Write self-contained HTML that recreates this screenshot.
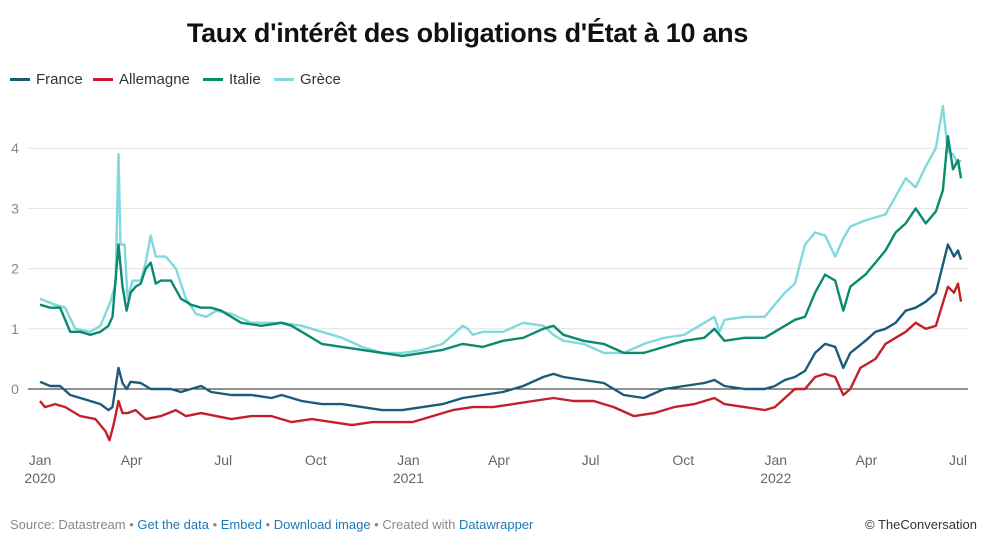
<!DOCTYPE html>
<html><head><meta charset="utf-8">
<style>
body{margin:0;background:#fff;font-family:"Liberation Sans",sans-serif;}
#wrap{position:relative;width:995px;height:551px;overflow:hidden;}
h1{position:absolute;left:0;width:935px;top:18px;margin:0;text-align:center;font-size:27px;font-weight:bold;color:#111;letter-spacing:-0.3px;}
.leg{position:absolute;top:71px;font-size:15px;color:#333;display:flex;align-items:center;}
.leg i{display:inline-block;width:20px;height:3px;margin-right:6px;}
.foot{position:absolute;top:517px;left:10px;font-size:13px;color:#888;}
.foot a{color:#1a7ab5;text-decoration:none;}
.copy{position:absolute;top:517px;right:18px;font-size:13px;color:#333;}
</style></head><body>
<div id="wrap">
<h1>Taux d'intérêt des obligations d'État à 10 ans</h1>
<div class="leg" style="left:10px"><i style="background:#1b5c7a"></i>France</div>
<div class="leg" style="left:93px"><i style="background:#c3202a"></i>Allemagne</div>
<div class="leg" style="left:203px"><i style="background:#0a8a6e"></i>Italie</div>
<div class="leg" style="left:274px"><i style="background:#7fd9de"></i>Grèce</div>
<svg id="chart" width="995" height="551" style="position:absolute;left:0;top:0"></svg>
<div class="foot">Source: Datastream • <a href="#">Get the data</a> • <a href="#">Embed</a> • <a href="#">Download image</a> • Created with <a href="#">Datawrapper</a></div>
<div class="copy">© TheConversation</div>
</div>
<script>
const yTicks=[0,1,2,3,4];
const xTickLabels=["Jan","Apr","Jul","Oct","Jan","Apr","Jul","Oct","Jan","Apr","Jul"];
const xTickYears=["2020","","","","2021","","","","2022","",""];
const xTickDays=[0,91,182,274,366,456,547,639,731,821,912];
const franceDays=[0,10,20,30,40,50,60,68,72,78,82,86,90,100,110,120,130,140,150,160,170,190,210,230,240,260,280,300,320,340,360,380,400,420,440,460,480,500,510,520,540,560,580,600,620,640,660,670,680,700,720,730,740,750,760,770,780,790,798,805,820,830,840,850,860,870,880,890,902,908,912,915];
const franceVals=[0.12,0.05,0.05,-0.1,-0.15,-0.2,-0.25,-0.35,-0.3,0.35,0.1,0.0,0.12,0.1,0.0,0.0,0.0,-0.05,0.0,0.05,-0.05,-0.1,-0.1,-0.15,-0.1,-0.2,-0.25,-0.25,-0.3,-0.35,-0.35,-0.3,-0.25,-0.15,-0.1,-0.05,0.05,0.2,0.25,0.2,0.15,0.1,-0.1,-0.15,0.0,0.05,0.1,0.15,0.05,0.0,0.0,0.05,0.15,0.2,0.3,0.6,0.75,0.7,0.35,0.6,0.8,0.95,1.0,1.1,1.3,1.35,1.45,1.6,2.4,2.2,2.3,2.15];
const germanyDays=[0,5,15,25,40,55,65,69,73,78,82,87,95,105,120,135,145,160,175,190,210,230,250,270,290,310,330,350,370,390,410,430,450,470,490,510,530,550,570,590,610,630,650,670,680,700,720,730,740,750,760,770,780,790,798,805,815,830,840,850,860,870,880,890,902,908,912,915];
const germanyVals=[-0.2,-0.3,-0.25,-0.3,-0.45,-0.5,-0.7,-0.85,-0.6,-0.2,-0.4,-0.4,-0.35,-0.5,-0.45,-0.35,-0.45,-0.4,-0.45,-0.5,-0.45,-0.45,-0.55,-0.5,-0.55,-0.6,-0.55,-0.55,-0.55,-0.45,-0.35,-0.3,-0.3,-0.25,-0.2,-0.15,-0.2,-0.2,-0.3,-0.45,-0.4,-0.3,-0.25,-0.15,-0.25,-0.3,-0.35,-0.3,-0.15,0.0,0.0,0.2,0.25,0.2,-0.1,0.0,0.35,0.5,0.75,0.85,0.95,1.1,1.0,1.05,1.7,1.6,1.75,1.45];
const italyDays=[0,10,20,30,40,50,60,68,72,78,82,86,90,95,100,105,110,115,120,130,140,150,160,170,180,190,200,220,240,250,260,270,280,300,320,340,360,380,400,420,440,460,480,500,510,520,540,560,580,600,620,640,660,670,680,700,720,730,740,750,760,770,780,790,798,805,820,830,840,850,860,870,880,890,897,902,907,912,915];
const italyVals=[1.4,1.35,1.35,0.95,0.95,0.9,0.95,1.05,1.2,2.4,1.7,1.3,1.6,1.7,1.75,2.0,2.1,1.75,1.8,1.8,1.5,1.4,1.35,1.35,1.3,1.2,1.1,1.05,1.1,1.05,0.95,0.85,0.75,0.7,0.65,0.6,0.55,0.6,0.65,0.75,0.7,0.8,0.85,1.0,1.05,0.9,0.8,0.75,0.6,0.6,0.7,0.8,0.85,1.0,0.8,0.85,0.85,0.95,1.05,1.15,1.2,1.6,1.9,1.8,1.3,1.7,1.9,2.1,2.3,2.6,2.75,3.0,2.75,2.95,3.3,4.2,3.65,3.8,3.5];
const greeceDays=[0,15,25,35,50,60,70,75,78,80,84,87,92,100,105,110,115,125,135,145,155,165,175,190,210,240,260,280,300,320,340,360,380,400,420,425,430,440,460,480,500,510,520,540,560,580,600,620,640,660,670,675,680,700,720,730,740,750,760,770,780,790,798,805,820,830,840,850,860,870,880,890,897,902,907,912,915];
const greeceVals=[1.5,1.4,1.35,1.0,0.95,1.05,1.45,1.75,3.9,2.4,2.4,1.5,1.8,1.8,2.1,2.55,2.2,2.2,2.0,1.5,1.25,1.2,1.3,1.25,1.1,1.1,1.05,0.95,0.85,0.7,0.6,0.6,0.65,0.75,1.05,1.0,0.9,0.95,0.95,1.1,1.05,0.9,0.8,0.75,0.6,0.6,0.75,0.85,0.9,1.1,1.2,0.95,1.15,1.2,1.2,1.4,1.6,1.75,2.4,2.6,2.55,2.2,2.5,2.7,2.8,2.85,2.9,3.2,3.5,3.35,3.7,4.0,4.7,3.95,3.9,3.75,3.8];

const NS="http://www.w3.org/2000/svg";
const svg=document.getElementById('chart');
function xS(d){return 40+d*918/912;}
function yS(v){return 389-v*60.2;}
function mk(t,a){const e=document.createElementNS(NS,t);for(const k in a)e.setAttribute(k,a[k]);svg.appendChild(e);return e;}
yTicks.forEach(function(t){
  const l=mk('line',{x1:28,x2:968,y1:yS(t),y2:yS(t),stroke:t===0?'#222':'#e3e3e3','stroke-width':1});
  
  
  const tx=mk('text',{x:15,y:yS(t)+5,'text-anchor':'middle','font-size':14,fill:'#888','font-family':'Liberation Sans, sans-serif'});
  tx.textContent=t;
  
  
});
xTickDays.forEach(function(d,i){
  const tx=mk('text',{x:xS(d),y:465,'text-anchor':'middle','font-size':14,fill:'#666','font-family':'Liberation Sans, sans-serif'});
  tx.textContent=xTickLabels[i];
  
  
  if(xTickYears[i]){
    const ty=mk('text',{x:xS(d),y:483,'text-anchor':'middle','font-size':14,fill:'#666','font-family':'Liberation Sans, sans-serif'});
    ty.textContent=xTickYears[i];
    
    
  }
});
function line(days,vals,color,name){
  const d=days.map(function(dd,i){return (i?'L':'M')+xS(dd).toFixed(1)+','+yS(vals[i]).toFixed(1);}).join('');
  const p=mk('path',{d:d,fill:'none',stroke:color,'stroke-width':2.4,'stroke-linejoin':'round'});
  
  
}
line(germanyDays,germanyVals,'#c3202a','line-allemagne');
line(franceDays,franceVals,'#1b5c7a','line-france');
line(greeceDays,greeceVals,'#7fd9de','line-grece');
line(italyDays,italyVals,'#0a8a6e','line-italie');
</script>
</body></html>
